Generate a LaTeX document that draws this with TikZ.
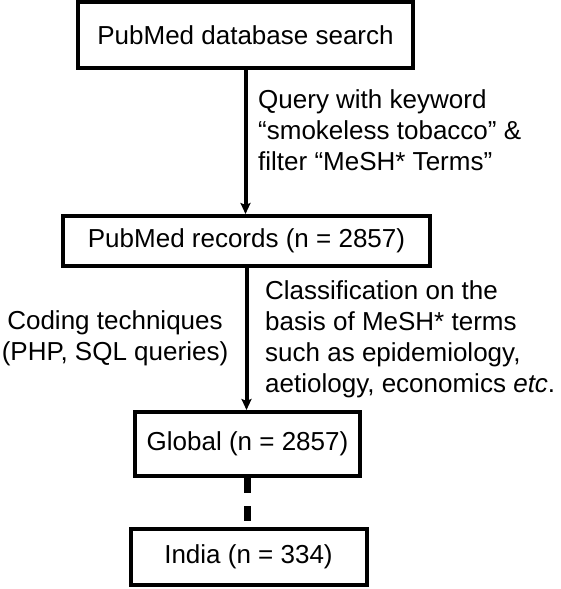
\documentclass[tikz,border=0pt]{standalone}
\usepackage{fontspec}
\setmainfont{Liberation Sans}
\usetikzlibrary{arrows.meta}
\begin{document}
\begin{tikzpicture}[x=1pt,y=-1pt,
  flowbox/.style={draw=black,line width=4pt,inner sep=0pt,minimum width=#1},
  arr/.style={line width=4pt,-{Stealth[length=11pt,width=10pt,inset=2pt]}},
  dashline/.style={line width=7pt,dash pattern=on 15pt off 13pt},
  lbl/.style={inner sep=0pt,font=\fontsize{26pt}{31pt}\selectfont},
  every node/.style={font=\fontsize{26pt}{31pt}\selectfont}]
\useasboundingbox (0,0) rectangle (561,589);
\node[flowbox=335pt,minimum height=66pt] (b1) at (245.5,35) {PubMed database search};
\node[flowbox=367pt,minimum height=50pt] (b2) at (246.5,241) {PubMed records (n = 2857)};
\node[flowbox=225pt,minimum height=64pt] (g) at (247.5,444) {Global (n = 2857)};
\node[flowbox=236pt,minimum height=56pt] (i) at (248.5,557) {India (n = 334)};
\draw[arr] (b1.south) -- (b1.south |- b2.north);
\draw[arr] (b2.south) -- (b2.south |- g.north);
\draw[dashline] (g.south) -- (g.south |- i.north);
\node[lbl,anchor=west,align=left] (q) at (258,130) {Query with keyword\\“smokeless tobacco” \&\\filter “MeSH* Terms”};
\node[lbl,anchor=west,align=left] (c) at (265,339) {Classification on the\\basis of MeSH* terms\\such as epidemiology,\\aetiology, economics \textit{etc}.};
\node[lbl,align=center] (k) at (115,338) {Coding techniques\\(PHP, SQL queries)};
\end{tikzpicture}
\end{document}
